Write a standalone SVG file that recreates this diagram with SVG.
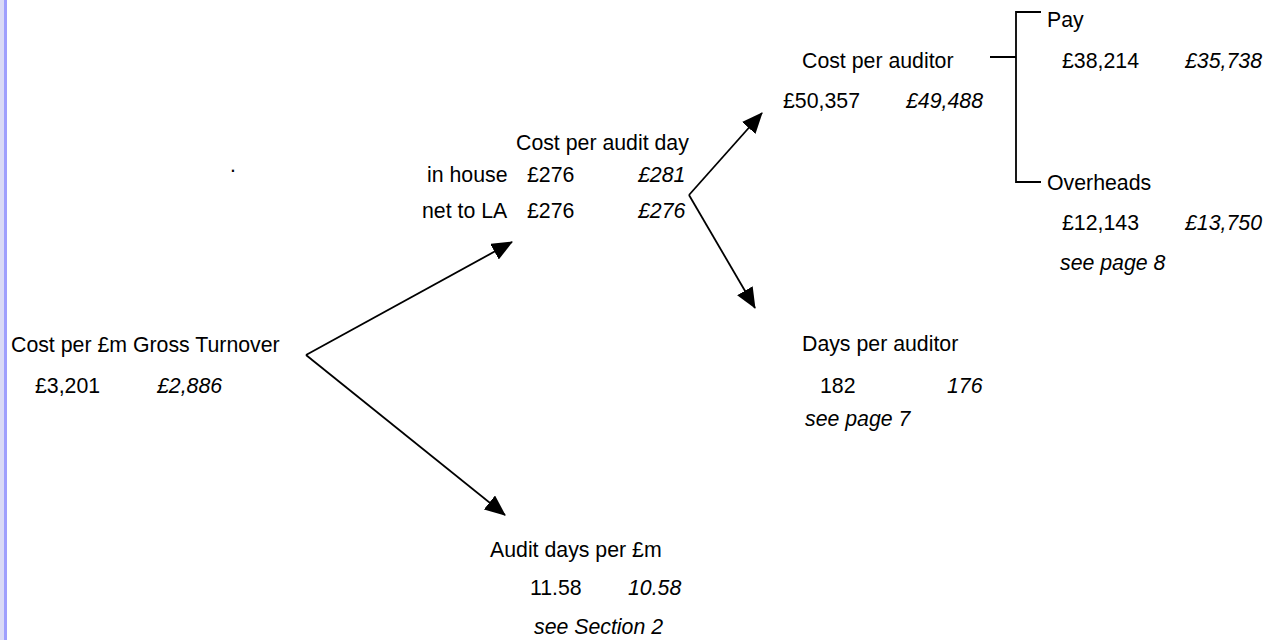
<svg xmlns="http://www.w3.org/2000/svg" width="1275" height="640" viewBox="0 0 1275 640">
<style>
text{font-family:"Liberation Sans",Arial,sans-serif;font-size:21.3px;fill:#000}
.i{font-style:italic}
.c{stroke:#000;stroke-width:1.8;fill:none}
</style>
<defs>
<marker id="ah" markerUnits="userSpaceOnUse" markerWidth="21" markerHeight="18" refX="20" refY="9" orient="auto">
<path d="M0,0 L21,9 L0,18 z" fill="#000"/>
</marker>
</defs>
<rect width="1275" height="640" fill="#fff"/>
<rect x="0" y="0" width="4" height="640" fill="#dadaf6"/>
<rect x="4" y="0" width="3" height="640" fill="#9f9ffd"/>
<g id="connectors">
<line class="c" x1="306" y1="355" x2="512" y2="242" marker-end="url(#ah)"/>
<line class="c" x1="306" y1="355" x2="505" y2="515" marker-end="url(#ah)"/>
<line class="c" x1="689" y1="195" x2="762" y2="113" marker-end="url(#ah)"/>
<line class="c" x1="689" y1="195" x2="755" y2="308" marker-end="url(#ah)"/>
<path class="c" d="M990,57 H1016 M1041,12 H1016 V182 H1041"/>
</g>
<g id="gross">
<text x="11" y="352">Cost per £m Gross Turnover</text>
<text x="35" y="393">£3,201</text>
<text class="i" x="157" y="393">£2,886</text>
</g>
<g id="auditday">
<text x="516" y="150">Cost per audit day</text>
<text x="427" y="182">in house</text>
<text x="527" y="182">£276</text>
<text class="i" x="638" y="182">£281</text>
<text x="422" y="218">net to LA</text>
<text x="527" y="218">£276</text>
<text class="i" x="638" y="218">£276</text>
</g>
<g id="auditdays">
<text x="490" y="557">Audit days per £m</text>
<text x="530" y="595">11.58</text>
<text class="i" x="628" y="595">10.58</text>
<text class="i" x="534" y="634">see Section 2</text>
</g>
<g id="auditor">
<text x="802" y="68">Cost per auditor</text>
<text x="783" y="108">£50,357</text>
<text class="i" x="906" y="108">£49,488</text>
</g>
<g id="days">
<text x="802" y="351">Days per auditor</text>
<text x="820" y="393">182</text>
<text class="i" x="947" y="393">176</text>
<text class="i" x="805" y="426">see page 7</text>
</g>
<g id="pay">
<text x="1047" y="27">Pay</text>
<text x="1062" y="68">£38,214</text>
<text class="i" x="1185" y="68">£35,738</text>
</g>
<g id="overheads">
<text x="1047" y="190">Overheads</text>
<text x="1062" y="230">£12,143</text>
<text class="i" x="1185" y="230">£13,750</text>
<text class="i" x="1060" y="270">see page 8</text>
</g>
<g id="dot">
<text x="230" y="172">.</text>
</g>
</svg>
